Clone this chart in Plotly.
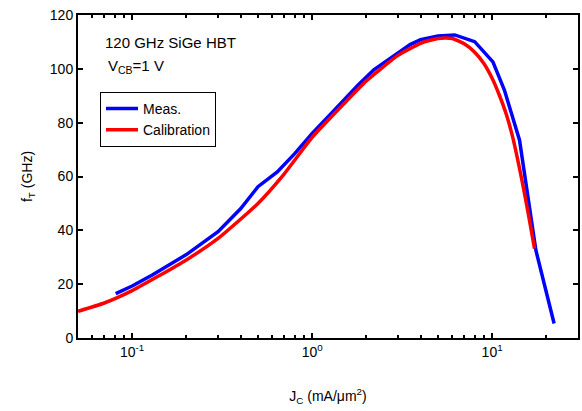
import plotly.graph_objects as go

# Measured data (Meas.)
meas_jc = [0.081, 0.1, 0.13, 0.2, 0.3, 0.4, 0.5, 0.64, 0.8, 1.0, 1.3, 1.8, 2.2, 3.0, 3.5, 4.0, 5.0, 6.2, 8.0, 10.1, 11.7, 14.2, 17.5, 22.1]
meas_ft = [16.5, 19.3, 23.5, 31.0, 39.5, 48.0, 56.2, 61.7, 68.5, 76.0, 84.0, 94.0, 99.6, 106.0, 109.0, 110.8, 112.2, 112.6, 110.1, 102.6, 92.1, 73.5, 32.6, 5.4]

# Calibration model
cal_jc = [0.05, 0.07, 0.1, 0.14, 0.2, 0.3, 0.5, 0.7, 1.0, 1.5, 2.0, 3.0, 4.0, 5.0, 6.0, 7.0, 8.0, 9.0, 10.0, 11.0, 12.0, 13.0, 14.0, 15.0, 16.0, 17.2]
cal_ft = [9.9, 13.0, 17.6, 23.0, 29.0, 37.0, 50.0, 61.0, 74.5, 87.0, 95.5, 105.0, 109.5, 111.3, 111.3, 109.3, 106.2, 102.0, 96.5, 90.0, 83.0, 74.7, 65.0, 55.0, 45.0, 33.2]

major_x = [0.1, 1, 10]
major_x_text = ["10<sup>-1</sup>", "10<sup>0</sup>", "10<sup>1</sup>"]
minor_x = [0.06, 0.07, 0.08, 0.09, 0.2, 0.3, 0.4, 0.5, 0.6, 0.7, 0.8, 0.9,
           2, 3, 4, 5, 6, 7, 8, 9, 20, 30]

font = dict(family="Liberation Sans, Arial, Helvetica, sans-serif", size=14, color="black")

fig = go.Figure()
fig.add_trace(go.Scatter(x=meas_jc, y=meas_ft, mode="lines", name="Meas.",
                         line=dict(color="#0000ff", width=3.5)))
fig.add_trace(go.Scatter(x=cal_jc, y=cal_ft, mode="lines", name="Calibration",
                         line=dict(color="#ff0000", width=3.5, shape="spline", smoothing=0.5)))

fig.update_layout(
    width=582, height=411,
    margin=dict(l=78, r=2, t=15, b=73),
    paper_bgcolor="white", plot_bgcolor="white",
    font=font,
    showlegend=True,
    legend=dict(x=0.044, y=0.762, xanchor="left", yanchor="top",
                bordercolor="black", borderwidth=1, bgcolor="white",
                font=dict(size=14), itemwidth=32, tracegroupgap=0),
    annotations=[
        dict(text="120 GHz SiGe HBT", x=0.05, y=0.915, xref="paper", yref="paper",
             xanchor="left", yanchor="middle", showarrow=False, font=dict(size=15)),
        dict(text="V<sub>CB</sub>=1 V", x=0.056, y=0.842, xref="paper", yref="paper",
             xanchor="left", yanchor="middle", showarrow=False, font=dict(size=15)),
    ],
)

fig.update_xaxes(
    type="log", range=[-1.30103, 1.47712],
    tickmode="array", tickvals=major_x, ticktext=major_x_text,
    ticks="inside", ticklen=5, tickwidth=1.5, tickcolor="black",
    showline=True, linecolor="black", linewidth=2, mirror="ticks",
    showgrid=False, zeroline=False,
    minor=dict(tickmode="array", tickvals=minor_x, ticks="inside", ticklen=3,
               tickwidth=1.5, tickcolor="black", showgrid=False),
    title=dict(text="J<sub>C</sub> (mA/μm<sup>2</sup>)", standoff=32, font=dict(size=14)),
    tickfont=dict(size=14),
)
fig.update_yaxes(
    range=[0, 120], tickmode="linear", tick0=0, dtick=20,
    ticks="inside", ticklen=5, tickwidth=1.5, tickcolor="black",
    showline=True, linecolor="black", linewidth=2, mirror="ticks",
    showgrid=False, zeroline=False,
    title=dict(text="f<sub>T</sub> (GHz)", standoff=14, font=dict(size=14)),
    tickfont=dict(size=14),
)

fig.write_html("out.html")
